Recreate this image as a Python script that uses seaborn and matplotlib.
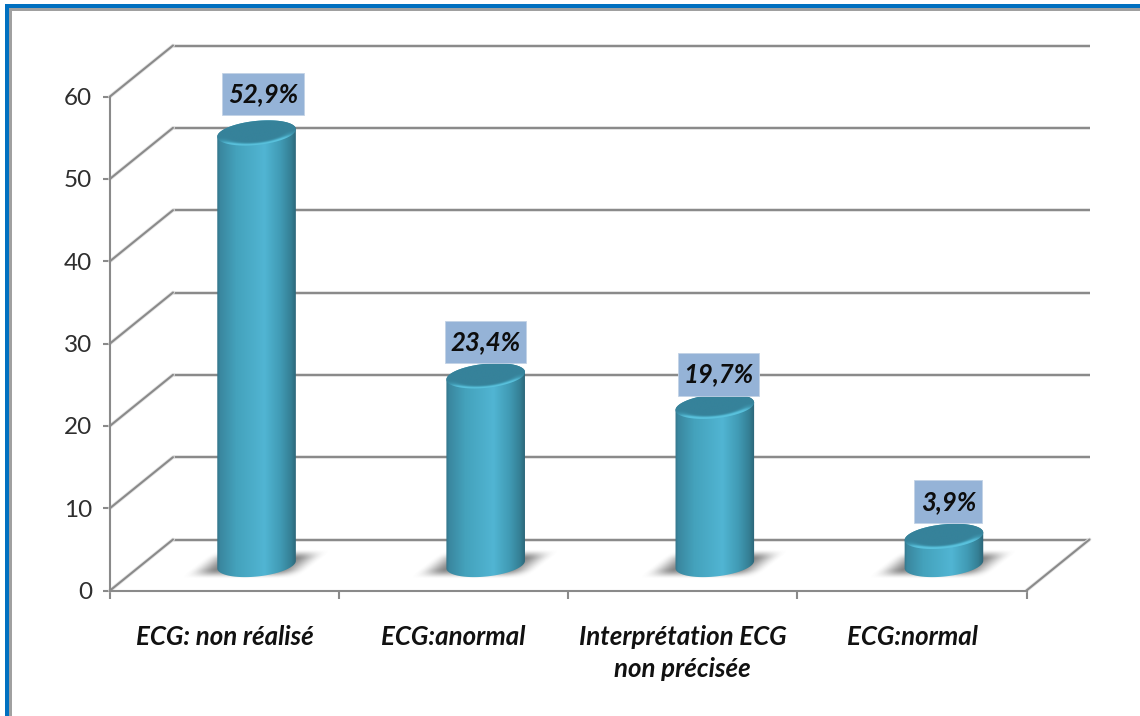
import numpy as np
import pandas as pd
import matplotlib
matplotlib.use("Agg")
import matplotlib.pyplot as plt
import matplotlib.patheffects as pe
import seaborn as sns
from matplotlib.colors import LinearSegmentedColormap
from matplotlib.patches import PathPatch, Rectangle
from matplotlib.path import Path
from matplotlib.transforms import Affine2D, IdentityTransform

# ECG status values
categories = ["ECG: non réalisé", "ECG:anormal", "Interprétation ECG\nnon précisée", "ECG:normal"]
values = [52.9, 23.4, 19.7, 3.9]
value_labels = ["52,9%", "23,4%", "19,7%", "3,9%"]
y_ticks = [0, 10, 20, 30, 40, 50, 60]

W, H = 1140, 716
AX_L, AX_R, AX_B, AX_T = 110, 1026.5, 716 - 590.5, 716 - 96.5
WALL_DX, WALL_DY = 63, 51          # depth of the simulated back wall, px
BAR_DX, BAR_DY = 32, 22            # bars stand halfway into the depth, px
BASE_LIFT = 4                      # the cylinder foot sits slightly behind its axis point, px
ELL_A, ELL_B, ELL_TILT = 39.5, 12, np.deg2rad(6)
LINE = "#8a8a8a"
LW = 1.5
HALO = [pe.withStroke(linewidth=LW + 1.2, foreground="#e4e4e4")]

sns.set_theme(style="white")
plt.rcParams["font.family"] = ["Lato", "DejaVu Sans"]

fig = plt.figure(figsize=(W / 100, H / 100), dpi=100, facecolor="white")
ax = fig.add_axes([AX_L / W, AX_B / H, (AX_R - AX_L) / W, (AX_T - AX_B) / H])
ax.patch.set_alpha(0)

df = pd.DataFrame({"categorie": categories, "valeur": values})
sns.barplot(data=df, x="categorie", y="valeur", order=categories, width=78.5 / 229.1,
            color="#45a5c2", ax=ax, zorder=5)
ax.set_xlim(-0.5, 3.5)
ax.set_ylim(0, 60)
ax.set_xlabel("")
ax.set_ylabel("")

wall = ax.transData + Affine2D().translate(WALL_DX, WALL_DY)
bar_tf = ax.transData + Affine2D().translate(BAR_DX, BAR_DY)

# Back wall gridlines, their slanted returns on the left, and the floor edge
for v in y_ticks:
    ax.plot([-0.5, 3.5], [v, v], transform=wall, color=LINE, lw=LW, zorder=1, clip_on=False,
            solid_capstyle="butt", path_effects=HALO)
    x0, y0 = ax.transData.transform((-0.5, v))
    ax.plot([x0, x0 + WALL_DX], [y0, y0 + WALL_DY], transform=IdentityTransform(), color=LINE,
            lw=LW, zorder=1, clip_on=False, path_effects=HALO)
x1, y1 = ax.transData.transform((3.5, 0))
ax.plot([x1, x1 + WALL_DX], [y1, y1 + WALL_DY], transform=IdentityTransform(), color=LINE,
        lw=LW, zorder=1, clip_on=False, path_effects=HALO)

# Axes furniture
for side in ("top", "right"):
    ax.spines[side].set_visible(False)
for side in ("left", "bottom"):
    ax.spines[side].set_color(LINE)
    ax.spines[side].set_linewidth(LW)
ax.set_yticks(y_ticks)
ax.tick_params(axis="y", left=True, length=5, width=LW, color=LINE, labelsize=17.5,
               labelcolor="#2e2e2e", pad=8)
ax.set_xticks(range(4))
ax.set_xticklabels(categories, fontsize=18.6, fontstyle="italic", fontweight="bold",
                   color="#111111", linespacing=1.4)
ax.tick_params(axis="x", bottom=False, pad=18.5)
ax.set_xticks([-0.5, 0.5, 1.5, 2.5, 3.5], minor=True)
ax.tick_params(axis="x", which="minor", bottom=True, length=6, width=LW, color=LINE)

# Cylinder shading: body runs left to right, cap runs from its interior to the lit rim
body_cmap = LinearSegmentedColormap.from_list("body", [
    (0.00, "#316d82"), (0.05, "#3a879f"), (0.25, "#44a2bc"), (0.60, "#51b5d3"),
    (0.80, "#409ab4"), (0.93, "#357f94"), (1.00, "#2b6275")])
cap_cmap = LinearSegmentedColormap.from_list("cap", ["#36829a", "#3f97b0", "#5ac2dd"])


def ellipse_path(cx, cy):
    t = np.linspace(0, 2 * np.pi, 121)
    ex, ey = ELL_A * np.cos(t), ELL_B * np.sin(t)
    px = cx + ex * np.cos(ELL_TILT) - ey * np.sin(ELL_TILT)
    py = cy + ex * np.sin(ELL_TILT) + ey * np.cos(ELL_TILT)
    return np.column_stack([px, py])


def smooth(a):
    a = np.clip(a, 0, 1)
    return a * a * (3 - 2 * a)


def cap_shading():
    # Lit band along the near rim of the tilted ellipse, brightest at its centre
    half_h = ELL_B + 6
    xs = np.linspace(-ELL_A - 1, ELL_A + 1, 160)
    ys = np.linspace(-half_h, half_h, 80)
    gx, gy = np.meshgrid(xs, ys)
    ex = (gx * np.cos(ELL_TILT) + gy * np.sin(ELL_TILT)) / ELL_A
    ey = (-gx * np.sin(ELL_TILT) + gy * np.cos(ELL_TILT)) / ELL_B
    rho = np.hypot(ex, ey)
    return smooth((rho - 0.68) / 0.27) * smooth(-ey / 0.75), half_h


def add_shadow(cx, cy):
    # Soft sheared shadow cast on the floor around the base of a cylinder
    xs = np.arange(cx - 80, cx + 80)
    ys = np.arange(cy - 26, cy + 26)
    gx, gy = np.meshgrid(xs + 0.5, ys + 0.5)
    u = (gx - cx) - (gy - cy) * 1.25
    v = gy - cy
    fade_u = smooth((60 - np.abs(u + 1)) / 30)
    fade_v = smooth((15 - np.abs(v)) / 10)
    alpha = 0.8 * fade_u * fade_v
    rgba = np.zeros(alpha.shape + (4,))
    rgba[..., :3] = 0.40
    rgba[..., 3] = alpha
    ax.imshow(rgba, extent=(xs[0], xs[-1] + 1, ys[0], ys[-1] + 1), origin="lower", aspect="auto",
              transform=IdentityTransform(), zorder=2, clip_on=False, interpolation="bilinear")


gradient = np.linspace(0, 1, 256)[None, :]
rim_light, cap_half_h = cap_shading()
for patch, val in zip(ax.patches, values):
    x_left, w = patch.get_x(), patch.get_width()
    xc = x_left + w / 2
    patch.set_visible(False)
    cx_base, cy_base = bar_tf.transform((xc, 0))
    cy_base += BASE_LIFT
    cx_top, cy_top = bar_tf.transform((xc, val))

    add_shadow(cx_base, cy_base)

    # Body: lower half of the base ellipse joined to the upper half of the cap
    base_pts = ellipse_path(cx_base, cy_base)
    top_pts = ellipse_path(cx_top, cy_top)
    outline = np.vstack([base_pts[60:121], top_pts[0:61]])
    clip = PathPatch(Path(outline), transform=IdentityTransform(), facecolor="none", edgecolor="none")
    ax.add_patch(clip)
    body = ax.imshow(gradient, cmap=body_cmap, aspect="auto",
                     extent=(cx_base - ELL_A - 1, cx_base + ELL_A + 1, cy_base - ELL_B - 6, cy_top + ELL_B + 6),
                     transform=IdentityTransform(), zorder=5, clip_on=True)
    body.set_clip_path(clip)

    # Cap on top of the body
    cap_clip = PathPatch(Path(top_pts), transform=IdentityTransform(), facecolor="none", edgecolor="none")
    ax.add_patch(cap_clip)
    cap = ax.imshow(rim_light, cmap=cap_cmap, vmin=0, vmax=1, aspect="auto", origin="lower",
                    extent=(cx_top - ELL_A - 1, cx_top + ELL_A + 1, cy_top - cap_half_h, cy_top + cap_half_h),
                    transform=IdentityTransform(), zorder=6, clip_on=True)
    cap.set_clip_path(cap_clip)

ax.set_xlim(-0.5, 3.5)
ax.set_ylim(0, 60)

# Value labels on flat blue boxes: offset from the cap centre and box size, px
label_offsets = [(6.5, 39), (-0.5, 34), (3.5, 32), (4.5, 34.5)]
box_sizes = [(82, 42), (81, 42), (81, 43), (68, 43)]
for i, (val, txt, off, size) in enumerate(zip(values, value_labels, label_offsets, box_sizes)):
    cx, cy = bar_tf.transform((i, val))
    ax.add_patch(Rectangle((cx + off[0] - size[0] / 2, cy + off[1] - size[1] / 2), size[0], size[1],
                           transform=IdentityTransform(), facecolor="#95b3d7", edgecolor="#c3d3e6",
                           linewidth=0.6, zorder=7, clip_on=False))
    ax.annotate(txt, xy=(i, val), xycoords=bar_tf, xytext=(off[0] * 0.72, off[1] * 0.72),
                textcoords="offset points", ha="center", va="center", fontsize=18.5,
                fontstyle="italic", fontweight="bold", color="#0d0d0d", zorder=8,
                annotation_clip=False)

# Window frame: blue outer band with a thin grey inner line, open on the right and bottom
frame = [
    (5, 4, W - 5, 4, "#0070c0"), (5, 4, 4, H - 4, "#0070c0"),
    (9, 8, W - 9, 3, "#a0a0a0"), (9, 8, 3, H - 8, "#a0a0a0"),
]
for x, ytop, w, h, col in frame:
    fig.add_artist(Rectangle((x / W, 1 - (ytop + h) / H), w / W, h / H, transform=fig.transFigure,
                             facecolor=col, edgecolor="none"))

fig.savefig("out.png", dpi=100)
